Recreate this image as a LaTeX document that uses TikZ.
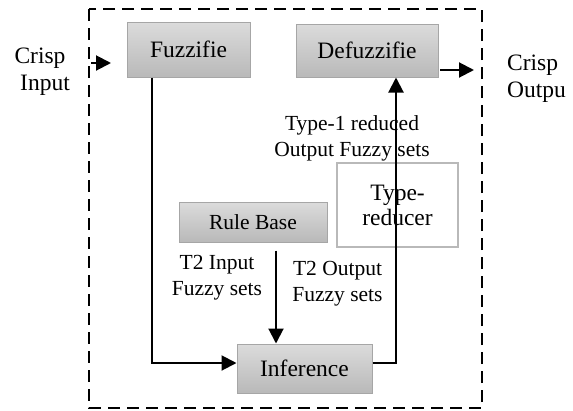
\documentclass[tikz,border=0pt]{standalone}
\usepackage{fontspec}
\setmainfont{Liberation Serif}
\usetikzlibrary{arrows.meta}
\tikzset{
  graybox/.style={draw=gray!70, line width=1pt, top color=gray!28, bottom color=gray!55, inner sep=0pt, font=\fontsize{23.5}{27}\selectfont},
  lbl/.style={align=center, inner sep=0pt, font=\fontsize{21.5}{26}\selectfont},
  arr/.style={line width=2pt, -{Triangle[length=15pt,width=15pt]}},
}
\begin{document}
\begin{tikzpicture}[x=1pt,y=-1pt]
\useasboundingbox (0,0) rectangle (573,410);
% dashed frame
\draw[line width=2.5pt, dash pattern=on 12pt off 7pt] (89,9) rectangle (482,408);
% boxes
\node[graybox, minimum width=123pt, minimum height=55pt] (fuz) at (188.5,49.5) {Fuzzifie};
\node[graybox, minimum width=142pt, minimum height=53pt] (defz) at (367,50.5) {Defuzzifie};
\node[graybox, minimum width=148pt, minimum height=40pt, font=\fontsize{21.5}{26}\selectfont] (rb) at (253,222) {Rule Base};
\node[graybox, minimum width=135pt, minimum height=49pt] (inf) at (304.5,368.5) {Inference};
\node[draw=gray!55, line width=1.3pt, fill=white, minimum width=121pt, minimum height=84pt, align=center, inner sep=0pt, font=\fontsize{23.5}{25}\selectfont] (tr) at (397.5,205) {Type-\\reducer};
% side texts
\node[align=center, inner sep=0pt, font=\fontsize{23.5}{27}\selectfont] (cin) at (40,71.5) {Crisp\\\hspace*{10pt}Input};
\node[align=left, anchor=west, inner sep=0pt, font=\fontsize{23.5}{27}\selectfont] (cout) at (507,78.5) {Crisp\\Outpu};
\coordinate (inS) at (91,63);
\coordinate (inE) at (111,63);
\draw[arr] (inS) -- (inE);
\coordinate (outS) at (440,70);
\coordinate (outE) at (474,70);
\draw[arr] (outS) -- (outE);
% labels
\node[lbl] (l1) at (352,138) {Type-1 reduced\\Output Fuzzy sets};
\node[lbl] (l2) at (217,278) {T2 Input\\Fuzzy sets};
\node[lbl] (l3) at (337.5,283.5) {T2 Output\\Fuzzy sets};
% connectors
\draw[arr] ([xshift=-36.5pt]fuz.south) |- ([yshift=5.5pt]inf.west);
\draw[arr, shorten <=8pt] ([xshift=23pt]rb.south) -- ([xshift=23pt]rb.south |- inf.north);
\coordinate (tup) at ([xshift=29pt]defz.south);
\draw[arr] ([yshift=5.5pt]inf.east) -| (tup);
\end{tikzpicture}
\end{document}
